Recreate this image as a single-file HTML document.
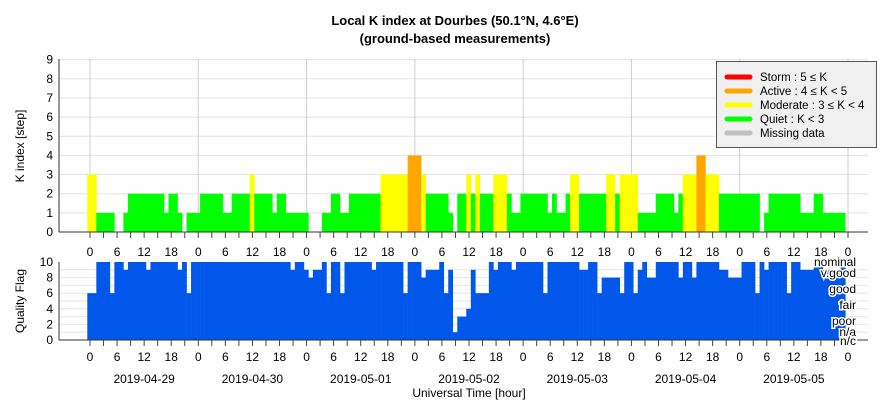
<!DOCTYPE html>
<html><head><meta charset="utf-8"><style>
body{margin:0;background:#fff;}
svg{display:block;font-family:"Liberation Sans",sans-serif;}
</style></head><body>
<svg id="chart" width="886" height="400" viewBox="0 0 886 400">
<text x="455" y="25" text-anchor="middle" font-size="13" font-weight="bold">Local K index at Dourbes (50.1°N, 4.6°E)</text>
<text x="455" y="43" text-anchor="middle" font-size="13" font-weight="bold">(ground-based measurements)</text>
<g id="topPanel"></g>
<g id="botPanel"></g>
<text transform="translate(24,146) rotate(-90)" text-anchor="middle" font-size="12">K index [step]</text>
<text transform="translate(24,301) rotate(-90)" text-anchor="middle" font-size="12">Quality Flag</text>
<text x="469" y="397" text-anchor="middle" font-size="12">Universal Time [hour]</text>
<g>
<rect x="716.5" y="61.5" width="160" height="86" fill="#f0f0f0" stroke="#555"/>
<g font-size="11.5">
<line x1="727" y1="77" x2="750" y2="77" stroke="#ff0000" stroke-width="5" stroke-linecap="round"/><text x="760" y="81">Storm : 5 ≤ K</text>
<line x1="727" y1="91" x2="750" y2="91" stroke="#ffa500" stroke-width="5" stroke-linecap="round"/><text x="760" y="95">Active : 4 ≤ K &lt; 5</text>
<line x1="727" y1="105" x2="750" y2="105" stroke="#ffff00" stroke-width="5" stroke-linecap="round"/><text x="760" y="109">Moderate : 3 ≤ K &lt; 4</text>
<line x1="727" y1="119" x2="750" y2="119" stroke="#00ff00" stroke-width="5" stroke-linecap="round"/><text x="760" y="123">Quiet : K &lt; 3</text>
<line x1="727" y1="133" x2="750" y2="133" stroke="#c0c0c0" stroke-width="5" stroke-linecap="round"/><text x="760" y="137">Missing data</text>
</g></g>
</svg>
<script>
// K index hourly values (hours 0..167 from 2019-04-29 00 UT); 0 = no bar
const kRuns = [[2,3],[4,1],[2,0],[1,1],[8,2],[1,1],[2,2],[1,1],[1,0],[3,1],[5,2],[2,1],[4,2],[1,3],[4,2],[1,1],[2,2],[5,1],[3,0],[2,1],[2,2],[2,1],[7,2],[6,3],[3,4],[1,3],[5,2],[1,1],[1,0],[2,2],
[1,3],[1,2],[1,3],[3,2],[3,3],[1,2],[2,1],[6,2],[1,1],[1,2],[2,1],[1,2],[2,3],[6,2],[2,3],[1,2],[4,3],[4,1],[4,2],[1,1],[1,2],[3,3],[2,4],[3,3],[9,2],[1,0],[1,1],[7,2],[3,1],[2,2],[5,1]];
// Quality flag hourly values
const qRuns = [[2,6],[3,10],[1,6],[2,10],[1,9],[4,10],[1,9],[6,10],[1,9],[1,10],[1,6],[22,10],[1,9],[2,10],[1,9],[1,8],[2,9],[1,10],[1,6],[2,10],[1,6],[6,10],[1,9],[6,10],[1,6],[3,10],[1,8],[3,9],[1,10],[1,6],[1,9],[1,1],[2,3],[1,4],
[1,9],[3,6],[1,10],[1,9],[3,10],[1,9],[6,10],[1,6],[7,10],[2,9],[2,10],[1,6],[4,8],[1,6],[2,10],[1,6],[1,9],[1,10],[2,8],[5,10],[1,8],[2,10],[1,8],[5,10],[2,9],[3,8],[3,10],[1,6],[1,10],[1,9],[4,10],[1,6],[2,10],[3,9],[2,10],[4,9],[1,10]];
const hourTicks = ["0","6","12","18"];
const dateLabels = ["2019-04-29","2019-04-30","2019-05-01","2019-05-02","2019-05-03","2019-05-04","2019-05-05"];
const qLabels = ["nominal","v.good","good","fair","poor","n/a","n/c"];
const kTicks = [0,1,2,3,4,5,6,7,8,9];
const qTicks = [0,2,4,6,8,10];

function expand(runs){const a=[];runs.forEach(r=>{for(let i=0;i<r[0];i++)a.push(r[1]);});return a;}
const kVals = expand(kRuns), qVals = expand(qRuns);
const NS="http://www.w3.org/2000/svg";
const X0=90, PXH=758/168, L=59, R=868;
const xH = h => X0 + PXH*h;
const yK = k => 232 - 19.15*k;
const yQ = q => 340 - 7.8*q;
function mk(p,tag,at){const e=document.createElementNS(NS,tag);for(const k in at)e.setAttribute(k,at[k]);p.appendChild(e);return e;}
function kColor(k){return k>=5?"#ff0000":k>=4?"#ffa500":k>=3?"#ffff00":"#00ff00";}
const topG=document.getElementById('topPanel'), botG=document.getElementById('botPanel');

kTicks.forEach(k=>{ if(k>0) mk(topG,'line',{x1:L,x2:R,y1:yK(k),y2:yK(k),stroke:'#e2e2e2'});
  const t=mk(topG,'text',{x:L-6,y:yK(k)+4,'text-anchor':'end','font-size':12}); t.textContent=k;
  
  });
for(let q=1;q<10;q++) mk(botG,'line',{x1:L,x2:R,y1:yQ(q),y2:yQ(q),stroke:'#e6e6e6'});
qTicks.forEach(q=>{const t=mk(botG,'text',{x:L-6,y:yQ(q)+4,'text-anchor':'end','font-size':12}); t.textContent=q;
  
  });
for(let d=0;d<=7;d++){ mk(topG,'line',{x1:xH(24*d),x2:xH(24*d),y1:59,y2:232,stroke:'#cfcfcf'}); }

kVals.forEach((k,h)=>{ if(k<=0)return;
  const r=mk(topG,'rect',{x:xH(h-0.6),y:yK(k),width:PXH+0.3,height:yK(0)-yK(k),fill:kColor(k)});
  
  });
qVals.forEach((q,h)=>{ if(q<=0)return;
  const r=mk(botG,'rect',{x:xH(h-0.6),y:yQ(q),width:PXH+0.3,height:yQ(0)-yQ(q),fill:'#0057e9'});
  
  });

mk(topG,'line',{x1:L,x2:L,y1:59,y2:232,stroke:'#333'});
mk(topG,'line',{x1:L,x2:R,y1:232,y2:232,stroke:'#333'});
mk(botG,'line',{x1:L,x2:L,y1:262,y2:340,stroke:'#333'});
mk(botG,'line',{x1:L,x2:R,y1:340,y2:340,stroke:'#333'});
for(let h=0;h<=168;h+=3){
  mk(topG,'line',{x1:xH(h),x2:xH(h),y1:232,y2:238,stroke:'#444'});
  mk(botG,'line',{x1:xH(h),x2:xH(h),y1:340,y2:346,stroke:'#444'});
  if(h%6===0){
    const lab=hourTicks[(h/6)%4];
    const t1=mk(topG,'text',{x:xH(h),y:256,'text-anchor':'middle','font-size':12}); t1.textContent=lab;
    
    
    const t2=mk(botG,'text',{x:xH(h),y:361,'text-anchor':'middle','font-size':12}); t2.textContent=lab;
    
    
  }
}
dateLabels.forEach((d,i)=>{const t=mk(botG,'text',{x:xH(24*i+12),y:383,'text-anchor':'middle','font-size':12}); t.textContent=d;
  
  });
const qy=[266,277,293,309,325,336,345];
qLabels.forEach((s,i)=>{
  const t=mk(botG,'text',{x:856,y:qy[i],'text-anchor':'end','font-size':12,stroke:'#fff','stroke-width':3,'paint-order':'stroke'}); t.textContent=s;
  
  });
</script>
</body></html>
